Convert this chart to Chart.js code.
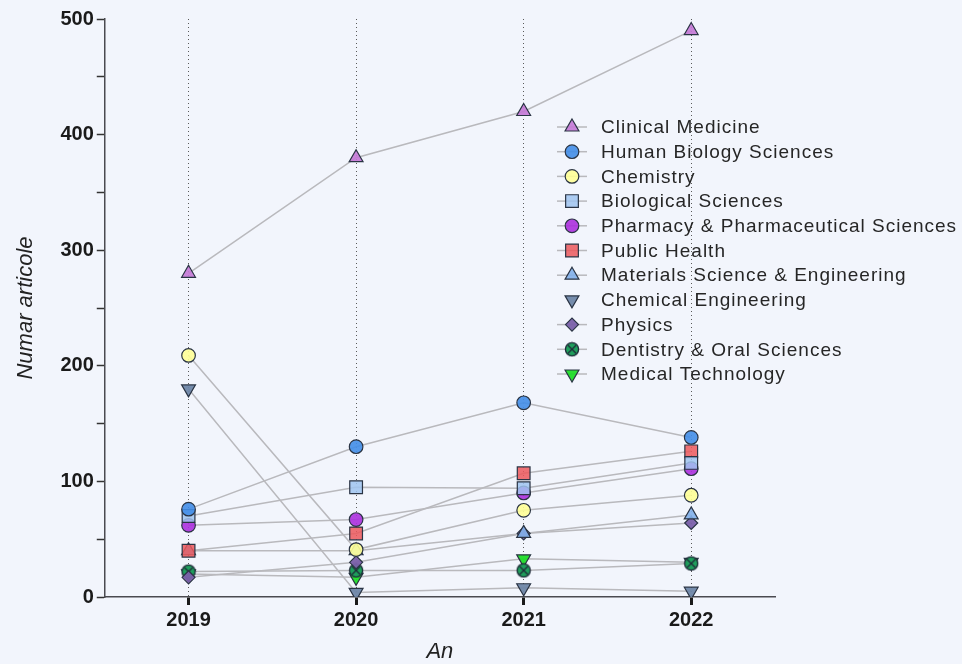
<!DOCTYPE html>
<html>
<head>
<meta charset="utf-8">
<script src="https://cdn.jsdelivr.net/npm/chart.js@4/dist/chart.umd.min.js"></script>
<style>
  html, body { margin: 0; padding: 0; background: #f2f5fc; }
  #wrap { width: 962px; height: 664px; }
</style>
</head>
<body>
<div id="wrap"><canvas id="chart" width="962" height="664"></canvas></div>
<script>
const years = ['2019', '2020', '2021', '2022'];
const series_names = ['Clinical Medicine', 'Human Biology Sciences', 'Chemistry', 'Biological Sciences',
    'Pharmacy & Pharmaceutical Sciences', 'Public Health', 'Materials Science & Engineering',
    'Chemical Engineering', 'Physics', 'Dentistry & Oral Sciences', 'Medical Technology'];

const clinical_medicine = [280, 380, 420, 490];
const human_biology = [76, 130, 168, 138];
const chemistry = [209, 41, 75, 88];
const biological_sciences = [70, 95, 94, 116];
const pharmacy = [62, 67, 90, 111];
const public_health = [40, 55, 107, 126];
const materials_science = [40, 40, 55, 71];
const chemical_engineering = [180, 4, 8, 5];
const physics = [17, 30, 55, 64];
const dentistry = [22, 23, 23, 29];
const medical_technology = [20, 17, 33, 30];
const y_ticks = [0, 100, 200, 300, 400, 500];

const series_values = [clinical_medicine, human_biology, chemistry, biological_sciences, pharmacy,
    public_health, materials_science, chemical_engineering, physics, dentistry, medical_technology];

// marker look per series
function cross_circle(fill) {
    const c = document.createElement('canvas');
    c.width = 16; c.height = 16;
    const g = c.getContext('2d');
    g.fillStyle = fill;
    g.strokeStyle = '#1e2a38';
    g.lineWidth = 1.3;
    g.beginPath(); g.arc(8, 8, 6.6, 0, Math.PI * 2); g.fill(); g.stroke();
    g.beginPath();
    g.moveTo(4, 4); g.lineTo(12, 12);
    g.moveTo(12, 4); g.lineTo(4, 12);
    g.stroke();
    return c;
}

const markers = [
    { style: 'triangle', rot: 0,   r: 8,   fill: 'rgba(196,120,214,0.9)' },
    { style: 'circle',   rot: 0,   r: 6.8, fill: 'rgba(66,142,232,0.9)' },
    { style: 'circle',   rot: 0,   r: 6.8, fill: 'rgba(255,255,150,0.9)' },
    { style: 'rect',     rot: 0,   r: 9,   fill: 'rgba(160,196,240,0.85)' },
    { style: 'circle',   rot: 0,   r: 6.8, fill: 'rgba(172,48,222,0.9)' },
    { style: 'rect',     rot: 0,   r: 9,   fill: 'rgba(236,88,92,0.85)' },
    { style: 'triangle', rot: 0,   r: 8,   fill: 'rgba(130,176,234,0.9)' },
    { style: 'triangle', rot: 180, r: 8,   fill: 'rgba(110,134,168,0.95)' },
    { style: 'rectRot',  rot: 0,   r: 6.5, fill: 'rgba(122,96,170,0.95)' },
    { style: cross_circle('#1f9e5c'), rot: 0, r: 7, fill: '#1f9e5c' },
    { style: 'triangle', rot: 180, r: 8,   fill: 'rgba(30,220,40,0.95)' }
];
const marker_border = '#2a3444';
const line_color = '#b9b9bd';
const no_legend_line = ['Chemical Engineering'];

// lines first (behind), markers on top; first series drawn last
const line_sets = series_values.map((vals, i) => ({
    label: series_names[i] + ' line',
    data: vals,
    borderColor: line_color,
    borderWidth: 1.5,
    pointRadius: 0,
    fill: false,
    tension: 0,
    order: 100 + i
}));
const marker_sets = series_values.map((vals, i) => ({
    label: series_names[i],
    data: vals,
    showLine: false,
    pointStyle: markers[i].style,
    pointRotation: markers[i].rot,
    pointRadius: markers[i].r,
    pointBackgroundColor: markers[i].fill,
    pointBorderColor: marker_border,
    pointBorderWidth: 1.2,
    order: i
}));

const side_legend = {
    id: 'side_legend',
    afterDraw(chart) {
        const ctx = chart.ctx;
        ctx.save();
        series_names.forEach((name, i) => {
            const y = 127 + i * 24.7;
            if (!no_legend_line.includes(name)) {
                ctx.strokeStyle = line_color;
                ctx.lineWidth = 1.5;
                ctx.beginPath();
                ctx.moveTo(557, y);
                ctx.lineTo(587, y);
                ctx.stroke();
            }
            ctx.fillStyle = markers[i].fill;
            ctx.strokeStyle = marker_border;
            ctx.lineWidth = 1.2;
            Chart.helpers.drawPoint(ctx, {
                pointStyle: markers[i].style,
                rotation: markers[i].rot,
                radius: markers[i].r,
                borderWidth: 1.2
            }, 572, y);
            ctx.fillStyle = '#262626';
            ctx.font = '19px "Liberation Sans", Arial, sans-serif';
            ctx.letterSpacing = '1px';
            ctx.textBaseline = 'middle';
            ctx.textAlign = 'left';
            ctx.fillText(name, 601, y + 1);
        });
        ctx.restore();
    }
};

new Chart(document.getElementById('chart'), {
    type: 'line',
    data: {
        labels: years,
        datasets: [...line_sets, ...marker_sets]
    },
    options: {
        responsive: false,
        animation: false,
        layout: { padding: { left: 13, right: 187, top: 19, bottom: 0 } },
        plugins: {
            legend: { display: false },
            tooltip: { enabled: false }
        },
        scales: {
            x: {
                offset: true,
                grid: {
                    display: true,
                    offset: false,
                    drawOnChartArea: true,
                    color: '#5a5a5a',
                    lineWidth: 1,
                    tickLength: 8,
                    tickWidth: 3,
                    tickColor: '#1a1a1a'
                },
                border: { display: true, color: '#4a4a50', width: 1.5, dash: [1, 3] },
                ticks: {
                    color: '#1a1a1a',
                    padding: 3,
                    font: { family: '"Liberation Sans", Arial, sans-serif', size: 20, weight: 'bold' }
                },
                title: {
                    display: true,
                    text: 'An',
                    color: '#222',
                    padding: { top: 6, bottom: 1 },
                    font: { family: '"Liberation Sans", Arial, sans-serif', size: 22, style: 'italic', lineHeight: 1 }
                }
            },
            y: {
                min: 0,
                max: 500,
                grid: {
                    display: true,
                    drawOnChartArea: false,
                    tickLength: 8,
                    tickWidth: 1.5,
                    tickColor: '#333'
                },
                border: { display: true, color: '#4a4a50', width: 1.5 },
                ticks: {
                    stepSize: 50,
                    autoSkip: false,
                    padding: 3,
                    color: '#1a1a1a',
                    font: { family: '"Liberation Sans", Arial, sans-serif', size: 20, weight: 'bold' },
                    callback: v => y_ticks.includes(v) ? v : ''
                },
                title: {
                    display: true,
                    text: 'Numar articole',
                    color: '#222',
                    padding: { top: 0, bottom: 18 },
                    font: { family: '"Liberation Sans", Arial, sans-serif', size: 22, style: 'italic' }
                }
            }
        }
    },
    plugins: [side_legend]
});
</script>
</body>
</html>
